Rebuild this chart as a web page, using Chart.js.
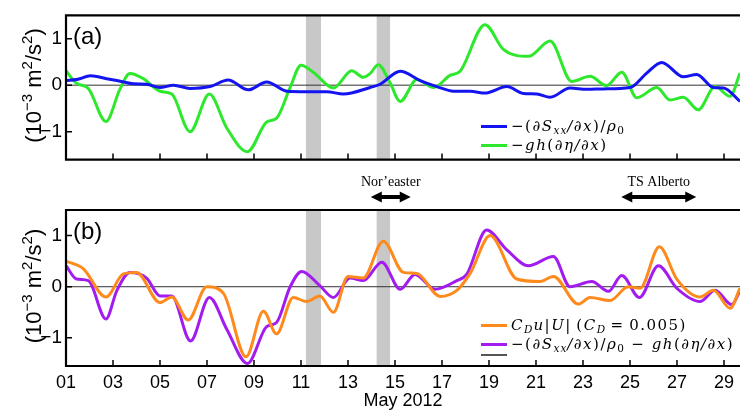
<!DOCTYPE html>
<html><head><meta charset="utf-8">
<script src="https://cdn.jsdelivr.net/npm/chart.js@4"></script>
<style>
html,body{margin:0;padding:0;background:#fff;overflow:hidden;width:740px;height:412px;position:relative}
#wa{position:absolute;left:0;top:0;width:740px;height:175px}
#wb{position:absolute;left:0;top:175px;width:740px;height:237px}
.leg{position:absolute;font-family:"DejaVu Serif","Liberation Serif",serif;font-style:italic;font-size:15px;letter-spacing:1.5px;color:#000;line-height:19px;white-space:nowrap}
.leg .row{position:relative;height:19px;padding-left:30px}
.leg .sw{position:absolute;left:0;top:8px;width:26px;height:3px}
.leg sub{font-size:10.5px;vertical-align:-3px;line-height:0;letter-spacing:1px}
.leg .up{font-style:normal}
</style></head>
<body>
<div id="wa"><canvas id="ca"></canvas></div>
<div id="wb"><canvas id="cb"></canvas></div>
<div class="leg" style="left:481px;top:117px">
  <div class="row"><span class="sw" style="background:#1414f0"></span><span class="up">−(</span>∂S<sub>xx</sub>/∂x<span class="up">)/</span>ρ<sub class="up">0</sub></div>
  <div class="row"><span class="sw" style="background:#2ee82e"></span><span class="up">−</span>gh<span class="up">(</span>∂η/∂x<span class="up">)</span></div>
</div>
<div class="leg" style="left:481px;top:316px">
  <div class="row"><span class="sw" style="background:#ff8a1c"></span>C<sub>D</sub>u<span class="up">|</span>U<span class="up">|&#8201;(</span>C<sub>D</sub><span class="up">&#8201;=&#8201;0.005)</span></div>
  <div class="row"><span class="sw" style="background:#a21cf0"></span><span class="up">−(</span>∂S<sub>xx</sub>/∂x<span class="up">)/</span>ρ<sub class="up">0</sub><span class="up"> − </span>gh<span class="up">(</span>∂η/∂x<span class="up">)</span></div>
  <div class="row" style="height:4px"><span class="sw" style="background:#555;top:0;height:1.5px"></span></div>
</div>
<script>
// ---- data (day of May 2012 -> value, 10^-3 m^2/s^2) ----
const xTickDays = [1,3,5,7,9,11,13,15,17,19,21,23,25,27,29];
const xTickLabels = ['01','03','05','07','09','11','13','15','17','19','21','23','25','27','29'];
const yTickValues = [-1, 0, 1];
const yTickLabels = ['−1', '0', '1'];
const yTitleParts = [['(10', false], ['−3', true], [' m', false], ['2', true], ['/s', false], ['2', true], [')', false]];
const bandStart = [11.21, 14.22];
const bandEnd = [11.85, 14.79];
const eventNames = ['Nor’easter', 'TS Alberto'];
const eventStart = [13.97, 24.63];
const eventEnd = [15.67, 27.82];

const sxxDays = [1,1.45,2.05,2.73,3.16,3.87,4.43,5.0,5.57,6.28,7.13,7.9,8.76,9.54,10.4,11.24,12.1,12.8,13.94,14.37,15.22,16.07,16.78,17.49,18.2,18.83,19.76,20.46,21.03,21.6,22.45,23.16,23.87,25.0,25.71,26.35,27.27,27.84,28.55,28.98,29.68];
const sxxVals = [0.10,0.12,0.20,0.14,0.10,0.03,0.02,-0.05,0.0,-0.07,-0.03,0.11,-0.10,0.07,-0.13,-0.14,-0.14,-0.19,-0.05,0.02,0.30,0.10,-0.03,-0.13,-0.13,-0.17,-0.03,-0.18,-0.19,-0.26,-0.06,-0.09,-0.08,-0.05,0.26,0.49,0.18,0.23,-0.05,-0.06,-0.35];

const ghDays = [1,1.45,1.95,2.70,3.3,3.72,4.29,5.0,5.5,6.28,7.1,7.84,8.72,9.54,9.96,10.53,11.0,11.52,12.38,13.16,13.65,13.94,14.29,14.79,15.22,15.93,16.64,17.34,17.77,18.83,19.61,20.68,21.6,22.52,23.3,24.0,24.65,25.29,26.14,26.71,27.27,27.9,28.62,29.26,29.68];
const ghVals = [0.31,0.04,-0.07,-0.78,-0.08,0.25,0.14,-0.13,-0.19,-1.0,-0.19,-0.92,-1.43,-0.79,-0.71,-0.06,0.43,0.28,-0.06,0.31,0.17,0.25,0.44,0.05,-0.35,0.12,-0.05,0.21,0.30,1.30,0.77,0.62,0.95,0.08,0.19,-0.01,0.28,-0.27,-0.05,-0.32,-0.26,-0.53,-0.03,-0.24,0.26];

const dragDays = [1,1.74,2.7,3.44,4.0,5.0,5.5,6.2,6.99,7.7,8.66,9.4,9.96,10.67,11.24,11.8,12.38,13.0,13.65,14.5,15.36,15.93,16.92,17.63,18.2,19.05,20.18,21.17,21.74,22.8,23.3,24.15,24.93,25.43,26.25,26.99,27.98,28.55,29.26,29.68];
const dragVals = [0.50,0.35,-0.20,0.25,0.28,-0.31,-0.20,-0.65,0.0,-0.13,-1.37,-0.48,-0.92,-0.21,-0.29,-0.18,-0.50,0.20,0.17,0.89,0.28,0.26,-0.19,-0.07,0.26,1.0,0.15,0.10,0.20,-0.34,-0.21,-0.27,0.0,-0.03,0.78,0.15,-0.20,-0.07,-0.42,-0.03];

const sumDays = [1,1.45,1.95,2.7,3.16,3.72,4.43,5.0,5.5,6.3,7.1,7.84,8.72,9.54,9.96,10.53,11.03,11.8,12.38,13.09,13.65,14.44,15.22,15.85,16.7,17.63,18.05,18.9,19.76,20.68,21.74,22.45,23.37,24.08,24.65,25.4,26.21,26.99,27.98,28.62,29.33,29.68];
const sumVals = [0.41,0.15,0.12,-0.63,-0.08,0.28,0.17,-0.18,-0.18,-1.06,-0.21,-0.83,-1.50,-0.78,-0.70,-0.01,0.30,0.02,-0.21,0.17,0.12,0.48,-0.05,0.24,-0.05,0.12,0.24,1.11,0.72,0.41,0.59,0.0,0.10,-0.09,0.22,-0.21,0.41,-0.03,-0.29,-0.07,-0.35,-0.08];

const xMin = 1, xMax = 29.68;
const SANS = '"Liberation Sans", Arial, sans-serif';

function pts(d, v) { return d.map((x, i) => ({x: x, y: v[i]})); }

const panelPlugin = {
  id: 'panel',
  beforeDatasetsDraw(chart, args, o) {
    const {ctx, chartArea: ca, scales: {x, y}} = chart;
    ctx.save();
    ctx.fillStyle = '#c8c8c8';
    bandStart.forEach((s, i) => {
      const x0 = x.getPixelForValue(s), x1 = x.getPixelForValue(bandEnd[i]);
      ctx.fillRect(x0, ca.top, x1 - x0, ca.bottom - ca.top);
    });
    const y0 = y.getPixelForValue(0);
    ctx.strokeStyle = '#333'; ctx.lineWidth = 1;
    ctx.beginPath(); ctx.moveTo(ca.left, y0); ctx.lineTo(ca.right, y0); ctx.stroke();
    ctx.restore();
  },
  afterDraw(chart, args, o) {
    const {ctx, chartArea: ca, scales: {x, y}} = chart;
    ctx.save();
    ctx.strokeStyle = '#000'; ctx.lineWidth = 2.2;
    ctx.beginPath();
    ctx.moveTo(ca.right + 2, ca.top); ctx.lineTo(ca.left, ca.top);
    ctx.lineTo(ca.left, ca.bottom); ctx.lineTo(ca.right + 2, ca.bottom);
    ctx.stroke();
    ctx.lineWidth = 1.5;
    ctx.beginPath();
    xTickDays.forEach(d => { const px = x.getPixelForValue(d); ctx.moveTo(px, ca.bottom); ctx.lineTo(px, ca.bottom - 6); });
    yTickValues.forEach(v => { const py = y.getPixelForValue(v); ctx.moveTo(ca.left, py); ctx.lineTo(ca.left + 6, py); });
    ctx.stroke();
    ctx.fillStyle = '#000';
    // y-axis title with superscripts
    ctx.save();
    const big = '22px ' + SANS, small = '15px ' + SANS;
    let total = 0;
    yTitleParts.forEach(([t, sup]) => { ctx.font = sup ? small : big; total += ctx.measureText(t).width; });
    ctx.translate(41, (ca.top + ca.bottom) / 2 - 2);
    ctx.rotate(-Math.PI / 2);
    ctx.textAlign = 'left'; ctx.textBaseline = 'alphabetic';
    let cx = -total / 2;
    yTitleParts.forEach(([t, sup]) => {
      ctx.font = sup ? small : big;
      ctx.fillText(t, cx, sup ? -9 : 0);
      cx += ctx.measureText(t).width;
    });
    ctx.restore();
    ctx.font = '24px ' + SANS;
    ctx.textBaseline = 'middle'; ctx.textAlign = 'left';
    ctx.fillText(o.label, ca.left + 7, ca.top + 22);
    if (o.events) {
      ctx.font = '14px "Liberation Serif", "DejaVu Serif", serif';
      ctx.textAlign = 'center';
      eventNames.forEach((n, i) => {
        const a = x.getPixelForValue(eventStart[i]), b = x.getPixelForValue(eventEnd[i]);
        ctx.fillText(n, (a + b) / 2, ca.top - 28);
        const ay = ca.top - 13;
        ctx.lineWidth = 4;
        ctx.beginPath(); ctx.moveTo(a + 8, ay); ctx.lineTo(b - 8, ay); ctx.stroke();
        ctx.beginPath();
        ctx.moveTo(a, ay); ctx.lineTo(a + 11, ay - 5.5); ctx.lineTo(a + 11, ay + 5.5); ctx.closePath();
        ctx.moveTo(b, ay); ctx.lineTo(b - 11, ay - 5.5); ctx.lineTo(b - 11, ay + 5.5); ctx.closePath();
        ctx.fill();
      });
    }
    ctx.restore();
  }
};

function makeChart(id, datasets, yMin, padTop, xHeight, showX, label, events) {
  return new Chart(document.getElementById(id), {
    type: 'line',
    data: { datasets: datasets },
    plugins: [panelPlugin],
    options: {
      responsive: true, maintainAspectRatio: false, animation: false,
      layout: { padding: { top: padTop, right: 0, bottom: 0, left: 0 } },
      elements: { point: { radius: 0 }, line: { borderWidth: 3, cubicInterpolationMode: 'monotone' } },
      plugins: { legend: { display: false }, tooltip: { enabled: false }, panel: { label: label, events: events } },
      scales: {
        x: {
          type: 'linear', min: xMin, max: xMax,
          afterBuildTicks: s => { s.ticks = xTickDays.map(v => ({ value: v })); },
          afterFit: s => { s.height = xHeight; },
          grid: { display: false, drawTicks: false },
          border: { display: false },
          ticks: { display: showX, autoSkip: false, maxRotation: 0, padding: 6, color: '#000',
            font: { family: SANS, size: 18 },
            callback: (v, i) => xTickLabels[i] },
          title: { display: showX, text: 'May 2012', color: '#000',
            font: { family: SANS, size: 18 }, padding: { top: 0, bottom: 0 } }
        },
        y: {
          min: yMin, max: 1.5,
          afterBuildTicks: s => { s.ticks = yTickValues.map(v => ({ value: v })); },
          afterFit: s => { s.width = 66; },
          grid: { display: false, drawTicks: false },
          border: { display: false },
          ticks: { padding: 4, color: '#000', font: { family: SANS, size: 19 },
            callback: (v, i) => yTickLabels[i] },
          title: { display: false }
        }
      }
    }
  });
}

makeChart('ca', [
  { label: '−(∂Sxx/∂x)/ρ0', data: pts(sxxDays, sxxVals), borderColor: '#1414f0' },
  { label: '−gh(∂η/∂x)', data: pts(ghDays, ghVals), borderColor: '#2ee82e' }
], -1.6, 9, 6, false, '(a)', false);

makeChart('cb', [
  { label: 'CD u|U| (CD = 0.005)', data: pts(dragDays, dragVals), borderColor: '#ff8a1c' },
  { label: '−(∂Sxx/∂x)/ρ0 − gh(∂η/∂x)', data: pts(sumDays, sumVals), borderColor: '#a21cf0' }
], -1.55, 35, 46, true, '(b)', true);
</script>
</body></html>
